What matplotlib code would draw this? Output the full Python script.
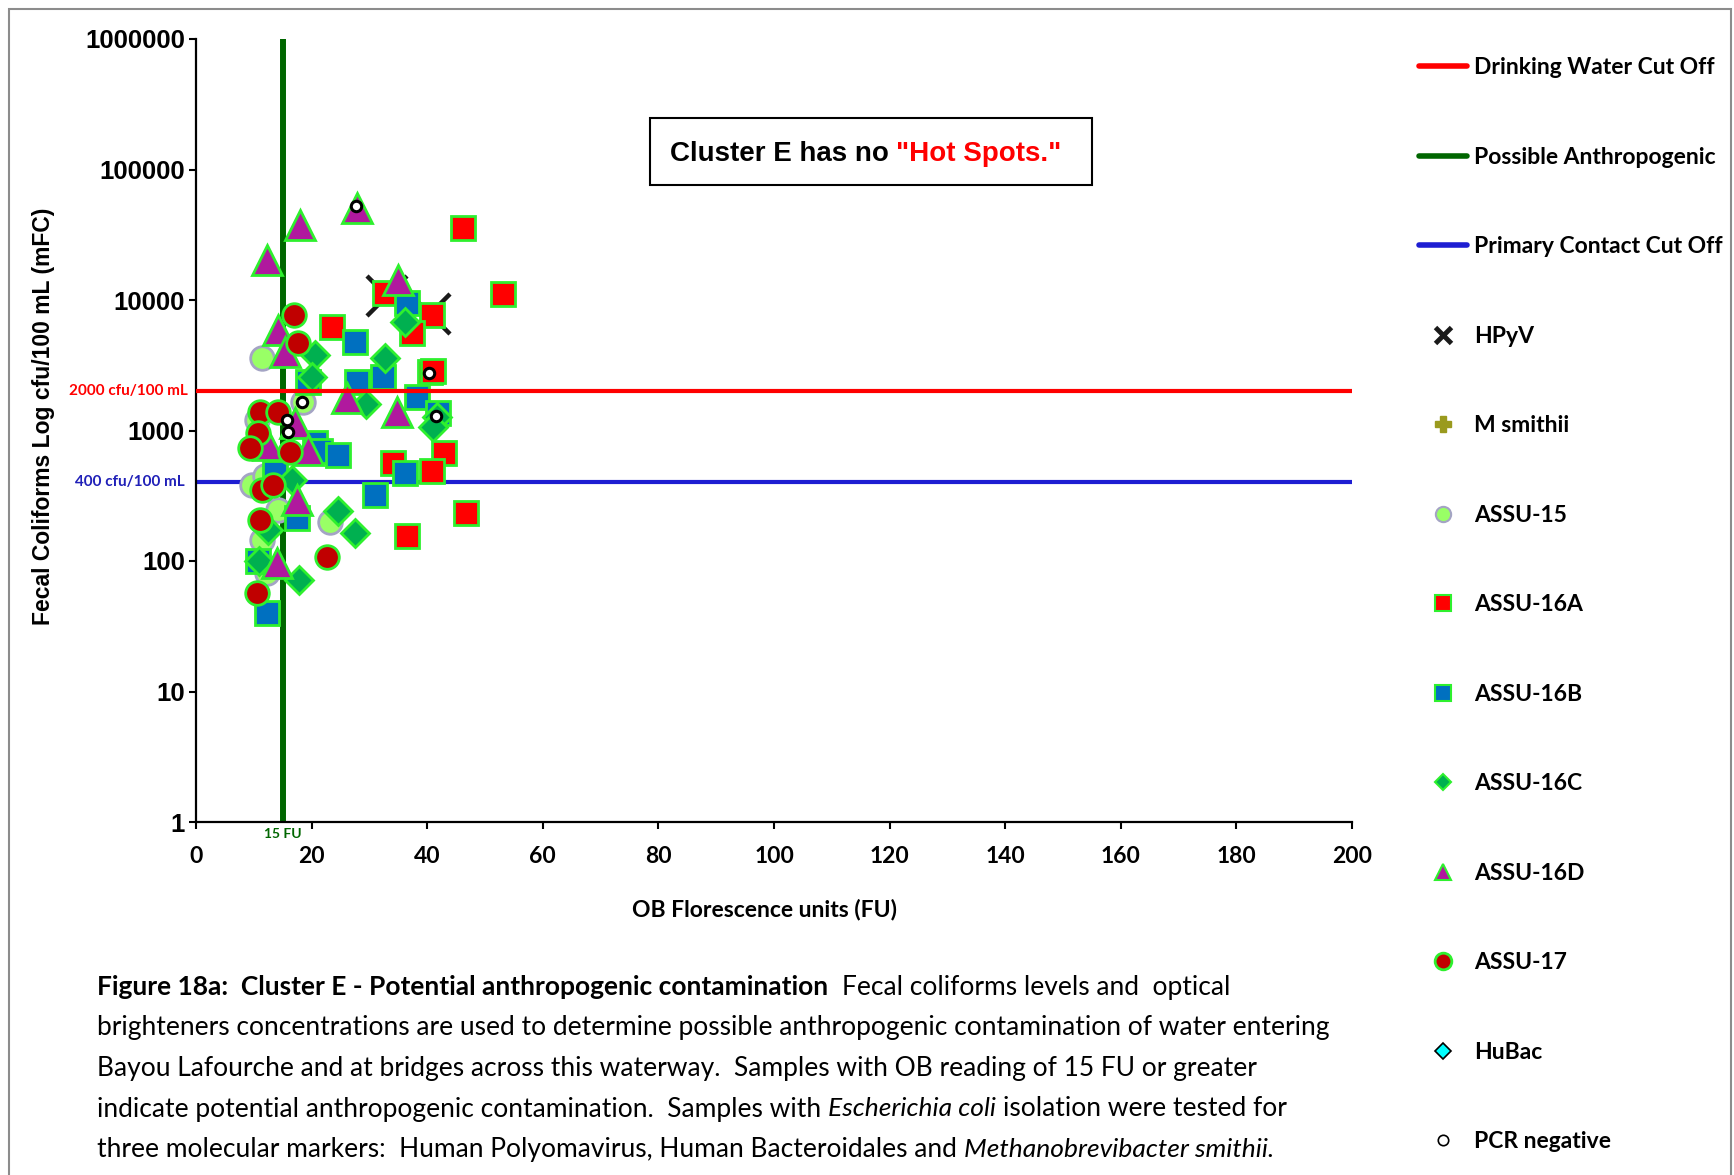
import matplotlib
matplotlib.use("Agg")

import matplotlib.pyplot as plt
from matplotlib.lines import Line2D
from matplotlib.patches import Rectangle
from matplotlib.ticker import NullLocator

plt.rcParams["font.family"] = ["Lato", "DejaVu Sans"]

# --- data (OB in FU, fecal coliforms in cfu/100 mL) ---
assu15_ob = [11.4, 18.5, 10.5, 9.7, 12.0, 23.2, 14.2, 11.4, 12.3]
assu15_fc = [3600, 1660, 1200, 380, 450, 200, 245, 145, 81]

assu16a_ob = [46.2, 53.1, 32.7, 40.8, 37.4, 23.5, 40.5, 41.0, 42.9, 34.1, 40.8, 46.7, 36.5]
assu16a_fc = [35600, 11100, 11300, 7700, 5600, 6200, 2800, 2850, 670, 565, 490, 233, 155]

assu16b_ob = [36.5, 27.5, 32.4, 27.9, 19.4, 38.2, 41.9, 20.6, 21.5, 24.6, 36.2, 31.0,
              13.7, 17.5, 10.7, 12.3]
assu16b_fc = [9500, 4770, 2570, 2350, 2350, 1800, 1360, 800, 700, 650, 470, 320,
              470, 214, 100, 40]

assu16c_ob = [36.2, 32.7, 20.6, 20.0, 29.4, 41.7, 41.0, 16.6, 24.6, 27.5, 12.5, 10.9, 17.8]
assu16c_fc = [6800, 3600, 3800, 2560, 1600, 1260, 1060, 420, 240, 163, 173, 100, 72]

assu16d_ob = [27.8, 18.0, 12.3, 35.0, 14.2, 15.4, 26.1, 34.8, 17.1, 12.5, 19.4, 17.5, 14.0]
assu16d_fc = [50500, 37500, 20300, 14200, 5900, 4000, 1780, 1390, 1140, 770, 710, 293, 96]

assu17_ob = [17.0, 17.6, 11.1, 14.2, 10.7, 9.3, 16.3, 11.4, 13.3, 11.1, 22.7, 10.6]
assu17_fc = [7700, 4700, 1380, 1380, 960, 735, 690, 350, 380, 205, 107, 57]

hpyv_ob = [33.1, 40.5]
hpyv_fc = [10800, 7760]

msmithii_ob = []
msmithii_fc = []
hubac_ob = []
hubac_fc = []

pcrneg_ob = [27.7, 40.3, 18.3, 15.7, 15.9, 41.5]
pcrneg_fc = [52500, 2750, 1650, 1200, 980, 1290]

drinking_cutoff = 2000
contact_cutoff = 400
ob_threshold = 15

yticks = [1, 10, 100, 1000, 10000, 100000, 1000000]
xticks = list(range(0, 201, 20))

legend_labels = ["Drinking Water Cut Off", "Possible Anthropogenic", "Primary Contact Cut Off",
                 "HPyV", "M smithii", "ASSU-15", "ASSU-16A", "ASSU-16B", "ASSU-16C",
                 "ASSU-16D", "ASSU-17", "HuBac", "PCR negative"]

# (text, style, weight, spaces before)
caption_lines = [
    [("Figure 18a:  Cluster E - Potential anthropogenic contamination", "normal", "bold", 0),
     ("Fecal coliforms levels and  optical", "normal", "normal", 2)],
    [("brighteners concentrations are used to determine possible anthropogenic "
      "contamination of water entering", "normal", "normal", 0)],
    [("Bayou Lafourche and at bridges across this waterway.  Samples with OB reading "
      "of 15 FU or greater", "normal", "normal", 0)],
    [("indicate potential anthropogenic contamination.  Samples with", "normal", "normal", 0),
     ("Escherichia coli", "italic", "normal", 1),
     ("isolation were tested for", "normal", "normal", 1)],
    [("three molecular markers:  Human Polyomavirus, Human Bacteroidales and", "normal",
      "normal", 0),
     ("Methanobrevibacter smithii.", "italic", "normal", 1)],
]

RED = "#FF0000"
DKGREEN = "#006600"
BLUE = "#1E1ED2"
LIME = "#2EF02E"

W, H = 1734, 1175
fig = plt.figure(figsize=(W / 100, H / 100), dpi=100)
ax = fig.add_axes([196 / W, 1 - 822 / H, (1352 - 196) / W, (822 - 39) / H])

# reference lines
ax.axvline(ob_threshold, color=DKGREEN, lw=4.3, zorder=1)
ax.axhline(contact_cutoff, color=BLUE, lw=3.0, zorder=1)
ax.axhline(drinking_cutoff, color=RED, lw=3.0, zorder=9)

# series
ax.plot(hpyv_ob, hpyv_fc, ls="none", marker="x", ms=29, mew=3.2, color="#1a1a1a", zorder=2)
ax.plot(msmithii_ob, msmithii_fc, ls="none", marker="P", ms=14, color="#9A9A1E", zorder=2)
ax.plot(assu15_ob, assu15_fc, ls="none", marker="o", ms=17, mfc="#99FF66", mec="#A4A4C4",
        mew=2, zorder=3)
ax.plot(assu16a_ob, assu16a_fc, ls="none", marker="s", ms=17, mfc=RED, mec=LIME, mew=2, zorder=4)
ax.plot(assu16b_ob, assu16b_fc, ls="none", marker="s", ms=17, mfc="#0070C0", mec=LIME, mew=2,
        zorder=5)
ax.plot(assu16c_ob, assu16c_fc, ls="none", marker="D", ms=14.5, mfc="#00B050", mec=LIME, mew=2,
        zorder=6)
ax.plot(assu16d_ob, assu16d_fc, ls="none", marker="^", ms=21, mfc="#B0199E", mec=LIME, mew=2,
        zorder=7)
ax.plot(assu17_ob, assu17_fc, ls="none", marker="o", ms=17, mfc="#C00000", mec=LIME, mew=2,
        zorder=8)
ax.plot(hubac_ob, hubac_fc, ls="none", marker="D", ms=10, mfc="#00FFFF", mec="black", zorder=8)
ax.plot(pcrneg_ob, pcrneg_fc, ls="none", marker="o", ms=7.5, mfc="white", mec="black", mew=2.2,
        zorder=10)

# axes
ax.set_yscale("log")
ax.set_xlim(0, 200)
ax.set_ylim(1, 1000000)
ax.set_yticks(yticks)
ax.set_yticklabels([str(v) for v in yticks], fontsize=18.5, fontweight="bold",
                   family="Liberation Sans")
ax.yaxis.set_minor_locator(NullLocator())
ax.set_xticks(xticks)
ax.set_xticklabels([str(v) for v in xticks], fontsize=16.5, fontweight="bold")
ax.spines["top"].set_visible(False)
ax.spines["right"].set_visible(False)
for s in ("left", "bottom"):
    ax.spines[s].set_linewidth(1.6)
ax.tick_params(axis="y", direction="out", length=5, width=1.5, pad=3)
ax.tick_params(axis="x", direction="out", length=5, width=1.5, pad=12)

# line labels
ax.annotate("2000 cfu/100 mL", xy=(0, drinking_cutoff), xycoords=("axes fraction", "data"),
            xytext=(-6, 0), textcoords="offset points", ha="right", va="center",
            color=RED, fontsize=11, fontweight="bold")
ax.annotate("400 cfu/100 mL", xy=(0, contact_cutoff), xycoords=("axes fraction", "data"),
            xytext=(-8, 0), textcoords="offset points", ha="right", va="center",
            color="#2020B8", fontsize=11, fontweight="bold")
ax.annotate("15 FU", xy=(ob_threshold, 0), xycoords=("data", "axes fraction"),
            xytext=(0, -4), textcoords="offset points", ha="center", va="top",
            color=DKGREEN, fontsize=10, fontweight="bold")

fig.text(44 / W, 1 - 625 / H, "Fecal Coliforms Log cfu/100 mL (mFC)", rotation=90,
         ha="center", va="bottom", fontsize=16.5, fontweight="bold", family="Liberation Sans")
fig.text(765 / W, 1 - 909 / H, "OB Florescence units (FU)", ha="center", va="center",
         fontsize=16.5, fontweight="bold")

# "Hot Spots" box
fig.add_artist(Rectangle((650 / W, 1 - 185 / H), 442 / W, 67 / H, transform=fig.transFigure,
                         fill=False, ec="black", lw=1.5))
renderer = fig.canvas.get_renderer()
t1 = fig.text(670 / W, 1 - 161 / H, "Cluster E has no", ha="left", va="baseline",
              fontsize=20, fontweight="bold", family="Liberation Sans")
x1 = t1.get_window_extent(renderer).x1 + 7
fig.text(x1 / W, 1 - 161 / H, "\"Hot Spots.\"", ha="left", va="baseline", color=RED,
         fontsize=20, fontweight="bold", family="Liberation Sans")

# legend
handles = [
    Line2D([], [], color=RED, lw=4, solid_capstyle="round"),
    Line2D([], [], color=DKGREEN, lw=4, solid_capstyle="round"),
    Line2D([], [], color=BLUE, lw=4, solid_capstyle="round"),
    Line2D([], [], ls="none", marker="x", ms=11, mew=3.5, color="#1a1a1a"),
    Line2D([], [], ls="none", marker="P", ms=11, color="#9A9A1E"),
    Line2D([], [], ls="none", marker="o", ms=11, mfc="#99FF66", mec="#A4A4C4", mew=1.5),
    Line2D([], [], ls="none", marker="s", ms=11, mfc=RED, mec=LIME, mew=1.5),
    Line2D([], [], ls="none", marker="s", ms=11, mfc="#0070C0", mec=LIME, mew=1.5),
    Line2D([], [], ls="none", marker="D", ms=8.5, mfc="#00B050", mec=LIME, mew=1.5),
    Line2D([], [], ls="none", marker="^", ms=12, mfc="#B0199E", mec=LIME, mew=1.5),
    Line2D([], [], ls="none", marker="o", ms=12, mfc="#C00000", mec=LIME, mew=2),
    Line2D([], [], ls="none", marker="D", ms=8.5, mfc="#00FFFF", mec="black", mew=1.2),
    Line2D([], [], ls="none", marker="o", ms=7.5, mfc="white", mec="black", mew=1.2),
]
fig.legend(handles, legend_labels, loc="upper left", bbox_to_anchor=(1419 / W, 1 - 57 / H),
           bbox_transform=fig.transFigure, frameon=False,
           prop=dict(family="Lato", weight="bold", size=16.5),
           handlelength=2.1, handletextpad=0.3, labelspacing=2.99, borderpad=0, borderaxespad=0)

# caption, built piece by piece so bold / italic runs line up
cap_size = 19
space = 0.27 * cap_size * 100 / 72
for i, parts in enumerate(caption_lines):
    y = 1 - (995 + i * 40.5) / H
    xpx = 97
    for text, style, weight, nsp in parts:
        xpx += nsp * space
        t = fig.text(xpx / W, y, text, ha="left", va="baseline", fontsize=cap_size,
                     fontstyle=style, fontweight=weight)
        xpx = t.get_window_extent(renderer).x1

# outer frame (bottom edge runs off the page, as in the original)
fig.add_artist(Rectangle((9 / W, -10 / H), 1722 / W, (H + 10 - 9) / H, transform=fig.transFigure,
                         fill=False, ec="#8c8c8c", lw=1.5))

fig.savefig("out.png", dpi=100)
